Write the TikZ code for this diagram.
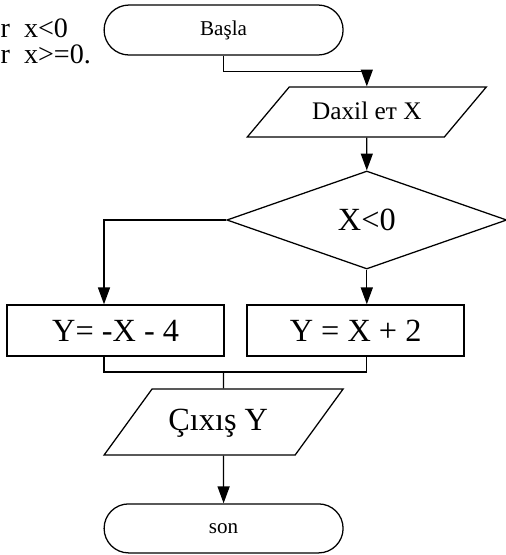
\documentclass[tikz,border=0pt]{standalone}
\usepackage{fontspec}
\setmainfont{Liberation Serif}
\usepackage{tikz}
\usetikzlibrary{positioning,calc,shapes.geometric,shapes.misc,arrows.meta}

\begin{document}
\begin{tikzpicture}[
	line width=0.9pt,
	% Terminator (Başla / son)
	term/.style={
		rounded rectangle, draw=black, fill=white,
		minimum width=5.975cm, minimum height=1.25cm, inner sep=0pt,
		font=\fontsize{15}{18}\selectfont
	},
	% Input / output
	iobox/.style={
		trapezium, trapezium left angle=#1, trapezium right angle=180-#1,
		trapezium stretches body, draw=black, fill=white, inner xsep=0pt,
		minimum width=5.975cm
	},
	% Process block
	procbox/.style={
		rectangle, draw=black, fill=white,
		minimum width=5.425cm, minimum height=1.275cm, inner sep=0pt,
		font=\fontsize{23}{27}\selectfont
	},
	% Decision
	decide/.style={
		diamond, draw=black, fill=white, inner sep=0pt,
		minimum width=7.0cm, minimum height=2.45cm,
		font=\fontsize{23}{27}\selectfont
	},
	flow/.style={-{Triangle[width=0.3cm,length=0.42cm]}},
	note/.style={font=\fontsize{20}{24}\selectfont, anchor=base west, inner sep=0pt}
	]
	\useasboundingbox (0,0) rectangle (12.65,-13.875);

	% --- TEXT AT LEFT ---
	\node[note] (cond1) at (0.0,-0.93) {r\hskip0.5em x<0};
	\node[note] (cond2) at (0.0,-1.59) {r\hskip0.5em x>=0.};

	% --- BLOCKS ---
	\node[term] (start) at (5.59,-0.75) {Başla};
	\node[iobox=50, text height=0.45cm, text depth=0.1cm, inner ysep=0.35cm,
		font=\fontsize{18}{21}\selectfont]
		(input) at (9.17,-2.8) {Daxil ет X};
	\node[decide] (test) at (9.17,-5.5) {X<0};
	\node[procbox] (neg) at (2.89,-8.26) {Y= -X - 4};
	\node[procbox] (pos) at (8.89,-8.26) {Y = X + 2};
	\node[iobox=54, text height=0.6cm, text depth=0.2cm, inner ysep=0.425cm,
		font=\fontsize{23}{27}\selectfont]
		(output) at (5.59,-10.55) {Çıxış Y\hphantom{r}};
	\node[term, minimum height=1.225cm] (stop) at (5.59,-13.21) {son};

	% --- CONNECTORS ---
	\coordinate (join) at (5.59,-9.3);
	\draw[flow] (start.south) -- ++(0,-0.4) -| (input.north);
	\draw[flow] (input.south) -- (test.north);
	\draw[flow] (test.west) -| ([xshift=-0.29cm]neg.north);
	\draw[flow] (test.south) -- (test.south |- pos.north);
	\draw ([xshift=-0.29cm]neg.south) |- (test.south |- join) -- (test.south |- pos.south);
	\draw (join) -- (output.north);
	\draw[flow] (output.south) -- (stop.north);
\end{tikzpicture}
\end{document}
